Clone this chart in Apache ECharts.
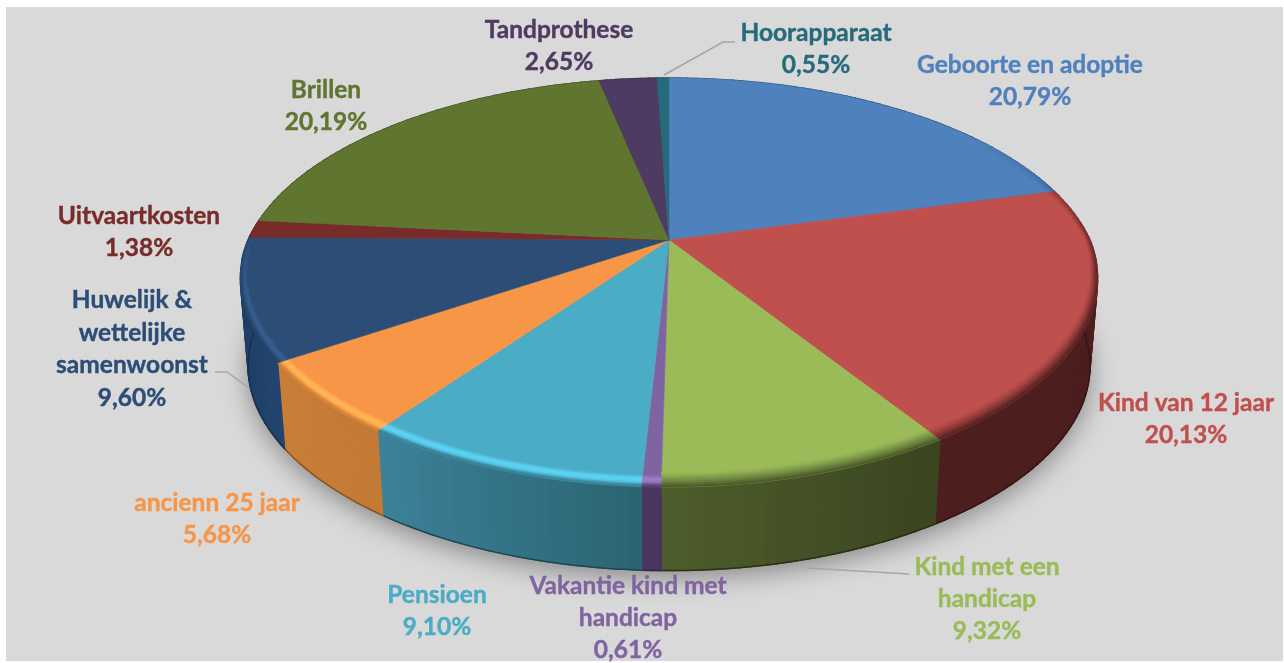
<!DOCTYPE html>
<html>
<head>
<meta charset="utf-8">
<style>
  html, body { margin: 0; background: #fff; }
  #chart { width: 1284px; height: 663px; }
</style>
<script src="https://cdn.jsdelivr.net/npm/echarts@6/dist/echarts.min.js"></script>
</head>
<body>
<div id="chart"></div>
<script>
const categories = ['Geboorte en adoptie', 'Kind van 12 jaar', 'Kind met een\nhandicap', 'Vakantie kind met\nhandicap', 'Pensioen', 'ancienn 25 jaar', 'Huwelijk &\nwettelijke\nsamenwoonst', 'Uitvaartkosten', 'Brillen', 'Tandprothese', 'Hoorapparaat']
const percentages = [20.79, 20.13, 9.32, 0.61, 9.10, 5.68, 9.60, 1.38, 20.19, 2.65, 0.55]

const topColors = ['#4f81bd', '#c0504d', '#9bbb59', '#8064a2', '#4bacc6', '#f79646', '#2c4d75', '#772c2a', '#5f7530', '#4d3b62', '#276a7c']
const wallLeft = ['#2a4a70', '#4d1e1e', '#4f5e2c', '#4a3560', '#3c829a', '#c97e38', '#1e3f66', '#4d1e1e', '#3b4520', '#33263f', '#1a4652']
const wallRight = ['#2a4a70', '#4d1e1e', '#3b4520', '#4a3560', '#2c6472', '#c27a34', '#234570', '#4d1e1e', '#3b4520', '#33263f', '#1a4652']

const labelCenters = [[1030, 81], [1186, 419], [987, 599], [628, 618], [437, 611], [217, 519], [132, 349], [139, 232], [326, 106], [559, 46], [816, 49]]
const leaderLines = [
  [[664, 75], [723, 42], [735, 42]],
  [[215, 372], [227, 372], [252, 390]],
  [[807, 568], [909, 574]]
]

// perspective disc: apex at (669, 240), near side stretched
const CX = 669, CY = 240, RX = 421, RY = 195.7, PERSP = 0.2078
const DEPTH = 88, SHRINK = 0.982

function project(deg, r = 1, bottom = false) {
  const a = deg * Math.PI / 180
  const u = r * Math.sin(a), v = -r * Math.cos(a)
  const d = 1 - PERSP * v
  const s = bottom ? SHRINK : 1
  const nearFix = 1 - 0.02 * Math.max(v, 0)
  return [CX + s * nearFix * RX * u / d, CY + s * RY * v / d + (bottom ? DEPTH : 0)]
}

function arc(from, to, r, bottom) {
  const n = Math.max(2, Math.ceil(Math.abs(to - from) / 1.5))
  const pts = []
  for (let i = 0; i <= n; i++) pts.push(project(from + (to - from) * i / n, r, bottom))
  return pts
}

function channels(hex) {
  return [1, 3, 5].map(i => parseInt(hex.substr(i, 2), 16))
}

function toHex(c) {
  return '#' + c.map(n => Math.min(255, Math.round(n)).toString(16).padStart(2, '0')).join('')
}

function mix(a, b, t) {
  const cb = channels(b)
  return toHex(channels(a).map((c, i) => c + (cb[i] - c) * t))
}

function brighten(hex, k) {
  return toHex(channels(hex).map(c => c * k))
}

function clamp(t) { return Math.max(0, Math.min(1, t)) }

let sum = 0
const slices = percentages.map((p, i) => {
  const row = [i, sum * 3.6, (sum + p) * 3.6]
  sum += p
  return row
})

function renderShadow() {
  return {
    type: 'polygon',
    shape: { points: arc(0, 360, 1, true) },
    style: { fill: '#bdbdbd', shadowBlur: 26, shadowColor: 'rgba(0,0,0,0.38)', shadowOffsetY: 7 }
  }
}

// wall as small quads so the outline also covers the tangent sliver at the sides
function renderWall(params, api) {
  const i = api.value(0), from = api.value(1), to = api.value(2)
  const top = arc(from, to, 1, false)
  const bot = arc(from, to, 1, true)
  const xs = top.map(p => p[0])
  const xMin = Math.min(...xs), xMax = Math.max(...xs)
  const children = []
  for (let k = 0; k < top.length - 1; k++) {
    const t = xMax > xMin ? (top[k][0] - xMin) / (xMax - xMin) : 0
    const color = mix(wallLeft[i], wallRight[i], t)
    children.push({
      type: 'polygon',
      shape: { points: [top[k], top[k + 1], bot[k + 1], bot[k]] },
      style: { fill: color, stroke: color, lineWidth: 1.4 }
    })
  }
  children.push({
    type: 'polyline',
    shape: { points: bot },
    style: { fill: null, stroke: mix(wallRight[i], '#000000', 0.3), lineWidth: 1.5 }
  })
  return { type: 'group', children }
}

function renderTop(params, api) {
  const i = api.value(0), from = api.value(1), to = api.value(2)
  return {
    type: 'polygon',
    shape: { points: [[CX, CY]].concat(arc(from, to, 1, false)) },
    style: { fill: topColors[i], stroke: topColors[i], lineWidth: 0.5 }
  }
}

// soft bevel along the rim: dark on the right front, light on the left front
function renderRim(params, api) {
  const i = api.value(0), from = api.value(1), to = api.value(2)
  const children = []
  const rings = 7, step = 2
  const top = topColors[i]
  const wall = mix(wallLeft[i], wallRight[i], 0.5)
  for (let a = from; a < to; a += step) {
    const b = Math.min(a + step, to), mid = (a + b) / 2
    const dark = mid < 181 ? clamp((mid - 55) / 45) : 0
    const light = mid >= 181 ? clamp((278 - mid) / 25) : 0
    if (dark === 0 && light === 0) continue
    const cosv = Math.abs(Math.cos(mid * Math.PI / 180))
    const width = dark > 0 ? 0.012 + 0.036 * cosv : 0.012 + 0.026 * cosv
    for (let k = 0; k < rings; k++) {
      const t = (k + 0.5) / rings
      const rIn = 1 - width * (1 - k / rings), rOut = 1 - width * (1 - (k + 1) / rings)
      let color
      if (dark > 0) {
        color = mix(top, wall, dark * Math.pow(t, 1.3))
      } else {
        const bump = Math.sin(Math.PI * Math.min(t / 0.8, 1))
        color = brighten(top, 1 + 0.24 * light * bump)
        if (t > 0.7) color = mix(color, wall, light * (t - 0.7) / 0.3)
      }
      children.push({
        type: 'polygon',
        shape: { points: [project(a, rIn), project(a, rOut), project(b, rOut), project(b, rIn)] },
        style: { fill: color, stroke: color, lineWidth: 0.4 }
      })
    }
  }
  return { type: 'group', children }
}

function renderLabel(params, api) {
  const i = api.value(0)
  const pct = percentages[i].toFixed(2).replace('.', ',') + '%'
  return {
    type: 'text',
    style: {
      text: categories[i] + '\n' + pct,
      x: labelCenters[i][0],
      y: labelCenters[i][1],
      align: 'center',
      verticalAlign: 'middle',
      fill: topColors[i],
      stroke: topColors[i],
      lineWidth: 0.4,
      fontFamily: 'Lato',
      fontWeight: 'bold',
      fontSize: 24.5,
      lineHeight: 32.4
    }
  }
}

const chart = echarts.init(document.getElementById('chart'))
chart.setOption({
  animation: false,
  graphic: [{
    type: 'rect',
    z: -10,
    shape: { x: 6, y: 7, width: 1277, height: 654 },
    style: { fill: '#d9d9d9' }
  }],
  series: [
    { type: 'custom', coordinateSystem: 'none', z: 1, data: [[0]], renderItem: renderShadow, silent: true },
    {
      type: 'custom', coordinateSystem: 'none', z: 2, data: [[0]], silent: true,
      renderItem: () => ({
        type: 'group',
        children: leaderLines.map(points => ({
          type: 'polyline',
          shape: { points },
          style: { fill: null, stroke: '#a6a6a6', lineWidth: 1.5 }
        }))
      })
    },
    { type: 'custom', coordinateSystem: 'none', z: 3, data: slices, renderItem: renderWall, silent: true },
    { type: 'custom', coordinateSystem: 'none', z: 4, data: slices, renderItem: renderTop, silent: true },
    { type: 'custom', coordinateSystem: 'none', z: 5, data: slices, renderItem: renderRim, silent: true },
    { type: 'custom', coordinateSystem: 'none', z: 6, data: slices, renderItem: renderLabel, silent: true }
  ]
})
</script>
</body>
</html>
